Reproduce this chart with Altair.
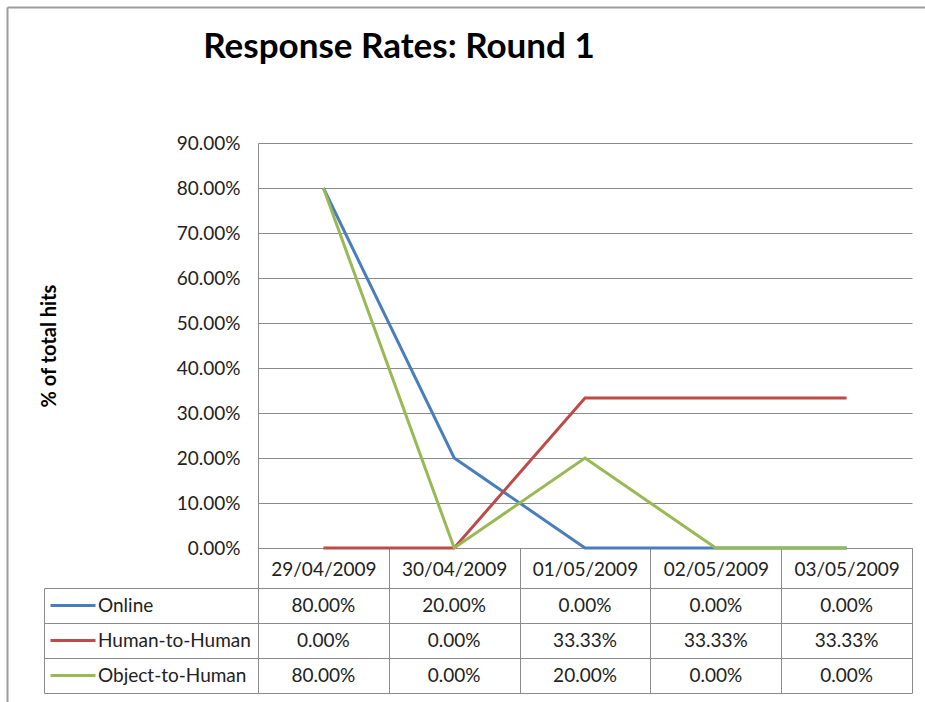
import altair as alt
import pandas as pd

# Response rates per day for each kind of hit
dates = ["29/04/2009", "30/04/2009", "01/05/2009", "02/05/2009", "03/05/2009"]
series = ["Online", "Human-to-Human", "Object-to-Human"]
online = [0.80, 0.20, 0.00, 0.00, 0.00]
human_to_human = [0.00, 0.00, 0.3333, 0.3333, 0.3333]
object_to_human = [0.80, 0.00, 0.20, 0.00, 0.00]
colors = ["#4A7EBB", "#BE4B48", "#98B954"]
y_ticks = [0.0, 0.1, 0.2, 0.3, 0.4, 0.5, 0.6, 0.7, 0.8, 0.9]

rows = []
for name, vals in zip(series, [online, human_to_human, object_to_human]):
    for d, v in zip(dates, vals):
        rows.append({"series": name, "date": d, "value": v})
df = pd.DataFrame(rows)

FONT = "Lato"
INK = "#222222"
GRID = "#8a8a8a"
FS = 19

W, H = 654, 550          # plot area: line chart on top, data table below
LINE_H = 405             # height of the line chart part
ROW_TOP = 445            # first data row of the table

color = alt.Color(
    "series:N",
    sort=series,
    scale=alt.Scale(domain=series, range=colors),
    legend=alt.Legend(
        orient="none", legendX=-194.5, legendY=453, direction="vertical",
        title=None, padding=0, symbolType="M-3,0H3", symbolSize=225,
        symbolStrokeWidth=3, symbolOffset=0, labelOffset=15.5, rowPadding=15,
        labelFont=FONT, labelFontSize=FS, labelColor=INK, labelLimit=300,
    ),
)

lines = alt.Chart(df).mark_line(strokeWidth=3).encode(
    x=alt.X("date:N", sort=dates, scale=alt.Scale(type="point", padding=0.5, range=[0, W]), axis=None),
    y=alt.Y(
        "value:Q",
        scale=alt.Scale(domain=[0, 0.9], range=[LINE_H, 0], nice=False, zero=True),
        axis=alt.Axis(
            orient="left", values=y_ticks, format=".2%", ticks=False, labelPadding=18,
            labelFont=FONT, labelFontSize=FS, labelColor=INK,
            grid=True, gridColor=GRID, domainColor=GRID,
            title="% of total hits", titleFont=FONT, titleFontSize=20,
            titleFontWeight="bold", titleColor="black", titleAngle=270,
            titleX=-209, titleY=LINE_H / 2, titleAlign="center", titleBaseline="middle",
        ),
    ),
    color=color,
)

# data table under the chart: header = date axis, rows = series
table = alt.Chart(df).mark_text(font=FONT, fontSize=FS, color=INK).encode(
    x=alt.X(
        "date:N", sort=dates,
        scale=alt.Scale(type="band", paddingInner=0, paddingOuter=0, range=[0, W]),
        axis=alt.Axis(
            orient="bottom", offset=-(H - LINE_H), tickBand="extent",
            tickSize=H - LINE_H, tickColor=GRID, domainColor=GRID,
            labelPadding=-124, labelBaseline="middle", labelFont=FONT,
            labelFontSize=FS, labelColor=INK, grid=False, title=None, labelAngle=0,
        ),
    ),
    y=alt.Y(
        "series:N", sort=series,
        scale=alt.Scale(type="band", paddingInner=0, paddingOuter=0, range=[ROW_TOP, H]),
        axis=alt.Axis(
            orient="right", offset=-(W + 214), tickBand="extent", tickSize=214,
            tickColor=GRID, domainColor=GRID, grid=True, gridColor=GRID,
            labels=False, title=None,
        ),
    ),
    text=alt.Text("value:Q", format=".2%"),
)

# outer chart-area border along the top and left edges
frame = alt.Chart(df).mark_point(opacity=0).encode(
    x=alt.X(
        "date:N", sort=dates,
        scale=alt.Scale(type="band", range=[-251, 700]),
        axis=alt.Axis(orient="top", offset=136, ticks=False, labels=False, grid=False,
                      domainColor="#9c9c9c", domainWidth=2, title=None),
    ),
    y=alt.Y(
        "series:N", sort=series,
        scale=alt.Scale(type="band", range=[-136, 600]),
        axis=alt.Axis(orient="left", offset=251, ticks=False, labels=False, grid=False,
                      domainColor="#9c9c9c", domainWidth=2, title=None),
    ),
)

chart = (
    alt.layer(frame, lines, table)
    .resolve_scale(x="independent", y="independent")
    .resolve_axis(x="independent", y="independent")
    .properties(
        width=W, height=H,
        autosize=alt.AutoSizeParams(type="none"),
        padding={"left": 258, "top": 143, "right": 13, "bottom": 9},
        title=alt.TitleParams(
            "Response Rates: Round 1", font=FONT, fontSize=35, fontWeight="bold",
            color="black", anchor="middle", frame="group", dx=-186,
            baseline="alphabetic", offset=0, dy=86,
        ),
        background="white",
    )
    .configure_view(stroke=None)
)

chart.save("out.html", embed_options={"renderer": "svg", "actions": False})
